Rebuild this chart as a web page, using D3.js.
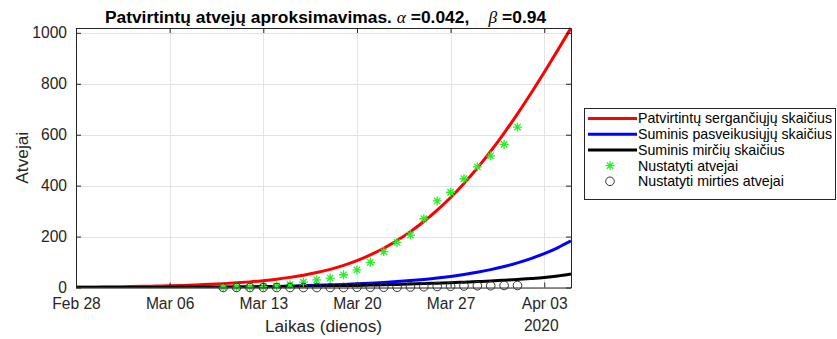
<!DOCTYPE html>
<html>
<head>
<meta charset="utf-8">
<script src="https://cdn.jsdelivr.net/npm/d3@7"></script>
<style>
  html, body { margin: 0; padding: 0; background: #ffffff; }
  svg { display: block; font-family: "Liberation Sans", Arial, Helvetica, sans-serif; }
</style>
</head>
<body>
<svg id="chart" width="837" height="339"></svg>
<script>
// Model time span (daily) and observation span
const modelStart = "2020-02-28";
const modelEnd = "2020-04-06";   // exclusive
const obsStart = "2020-03-10";
const obsEnd = "2020-04-02";     // exclusive

// Model curves, one value per day from Feb 28 to Apr 05
const confirmedModel = [1.7, 2.1, 2.6, 3.1, 3.8, 4.6, 5.6, 6.9, 8.3, 10.1,
  12.3, 15.0, 18.2, 22.1, 26.9, 32.7, 39.7, 48.3, 58.7, 71.3,
  86.7, 105.3, 128, 154.3, 184.6, 219.4, 259.0, 303.6, 353.5, 408.8,
  469.4, 535.3, 606.3, 682.0, 761.8, 845.2, 931.2, 1019];
const recoveredModel = [0, 0, 0.05, 0.08, 0.1, 0.15, 0.2, 0.28, 0.4, 0.6,
  0.85, 1.2, 1.7, 2.3, 3.1, 4.1, 5.3, 6.8, 8.5, 10.3,
  12.2, 14.3, 16.8, 19.8, 23.2, 27.2, 31.8, 37.1, 43.5, 51.1,
  59.9, 70.3, 82.5, 96.8, 113.5, 133, 156, 183];
const deathsModel = [0, 0, 0.1, 0.1, 0.2, 0.3, 0.4, 0.5, 0.6, 0.8,
  1, 1.3, 1.7, 2.1, 2.6, 3.2, 3.8, 4.5, 5.3, 6.2,
  7.2, 8.3, 9.5, 10.8, 12.2, 13.7, 15.3, 17.0, 18.9, 21.0,
  23.3, 25.8, 28.6, 31.7, 35.2, 39.4, 45.2, 53];

// Observed cumulative counts, Mar 10 .. Apr 01
const observedCases = [1, 1, 2, 3, 6, 11, 21, 30, 37, 50,
  69, 99, 141, 177, 206, 270, 340, 374, 427, 474,
  517, 562, 630];
const observedDeaths = [0, 0, 0, 0, 0, 0, 0, 0, 0, 0,
  1, 1, 1, 1, 2, 3, 4, 5, 6, 7,
  7, 8, 8];

const yTickValues = [0, 200, 400, 600, 800, 1000];
const xTickDates = ["2020-02-28", "2020-03-06", "2020-03-13", "2020-03-20", "2020-03-27", "2020-04-03"];
const yearLabel = "2020";

const legendLabels = [
  "Patvirtintų sergančiųjų skaičius",
  "Suminis pasveikusiųjų skaičius",
  "Suminis mirčių skaičius",
  "Nustatyti atvejai",
  "Nustatyti mirties atvejai"
];

const parse = d3.utcParse("%Y-%m-%d");
const modelDates = d3.utcDay.range(parse(modelStart), parse(modelEnd));
const obsDates = d3.utcDay.range(parse(obsStart), parse(obsEnd));

const svg = d3.select("#chart");
const margin = { left: 76, right: 266, top: 28, bottom: 51.5 };
const W = 837, H = 339;
const x0 = margin.left, x1 = W - margin.right;
const y0 = H - margin.bottom, y1 = margin.top;

const x = d3.scaleUtc()
  .domain([parse(modelStart), modelDates[modelDates.length - 1]])
  .range([x0, x1]);
const y = d3.scaleLinear()
  .domain([0, d3.max(confirmedModel)])
  .range([y0, y1]);

const textColor = "#262626";
const axisColor = "#262626";
const tickFont = 15.6;

// Grid
const grid = svg.append("g").attr("stroke", "#e3e3e3").attr("stroke-width", 1);
grid.selectAll("line.gx").data(xTickDates.map(parse)).join("line")
  .attr("x1", d => Math.round(x(d)) + 0.5).attr("x2", d => Math.round(x(d)) + 0.5)
  .attr("y1", y1).attr("y2", y0);
grid.selectAll("line.gy").data(yTickValues).join("line")
  .attr("x1", x0).attr("x2", x1)
  .attr("y1", d => Math.round(y(d)) + 0.5).attr("y2", d => Math.round(y(d)) + 0.5);

// Axes (box with inward ticks on all sides)
const tickLen = 5;
const xAxisB = d3.axisBottom(x).tickValues(xTickDates.map(parse))
  .tickFormat(d3.utcFormat("%b %d")).tickSizeInner(-tickLen).tickSizeOuter(0).tickPadding(10);
const xAxisT = d3.axisTop(x).tickValues(xTickDates.map(parse))
  .tickFormat("").tickSizeInner(-tickLen).tickSizeOuter(0);
const yAxisL = d3.axisLeft(y).tickValues(yTickValues).tickFormat(d3.format("d"))
  .tickSizeInner(-tickLen).tickSizeOuter(0).tickPadding(9);
const yAxisR = d3.axisRight(y).tickValues(yTickValues)
  .tickFormat("").tickSizeInner(-tickLen).tickSizeOuter(0);

function styleAxis(g) {
  g.select(".domain").attr("stroke", axisColor).attr("stroke-width", 1);
  g.selectAll(".tick line").attr("stroke", axisColor);
  g.selectAll(".tick text").attr("fill", textColor)
    .style("font-size", tickFont + "px")
    .style("font-family", "'Liberation Sans', Arial, sans-serif");
}

// Clip for curves
svg.append("clipPath").attr("id", "plotClip")
  .append("rect").attr("x", x0).attr("y", y1 - 1).attr("width", x1 - x0).attr("height", y0 - y1 + 1);

const line = d3.line()
  .x((d, i) => x(modelDates[i]))
  .y(d => y(d))
  .curve(d3.curveMonotoneX);

const curves = svg.append("g").attr("clip-path", "url(#plotClip)");
curves.append("path").datum(confirmedModel).attr("d", line)
  .attr("fill", "none").attr("stroke", "#ff0000").attr("stroke-width", 3);
curves.append("path").datum(recoveredModel).attr("d", line)
  .attr("fill", "none").attr("stroke", "#0000ff").attr("stroke-width", 3);
curves.append("path").datum(deathsModel).attr("d", line)
  .attr("fill", "none").attr("stroke", "#000000").attr("stroke-width", 3);

// Asterisk marker path (plus + cross)
function asterisk(r) {
  const c = r * Math.SQRT1_2;
  return `M${-r},0L${r},0M0,${-r}L0,${r}M${-c},${-c}L${c},${c}M${-c},${c}L${c},${-c}`;
}

svg.append("g").selectAll("path").data(observedCases).join("path")
  .attr("transform", (d, i) => `translate(${x(obsDates[i])},${y(d)})`)
  .attr("d", asterisk(4.5))
  .attr("fill", "none").attr("stroke", "#2bee2b").attr("stroke-width", 1.3);

svg.append("g").selectAll("circle").data(observedDeaths).join("circle")
  .attr("cx", (d, i) => x(obsDates[i]))
  .attr("cy", d => y(d))
  .attr("r", 4.3)
  .attr("fill", "none").attr("stroke", "#333333").attr("stroke-width", 1);

// Axes on top
svg.append("g").attr("transform", `translate(0,${y0})`).call(xAxisB).call(styleAxis);
svg.append("g").attr("transform", `translate(0,${y1})`).call(xAxisT).call(styleAxis);
svg.append("g").attr("transform", `translate(${x0},0)`).call(yAxisL).call(styleAxis);
svg.append("g").attr("transform", `translate(${x1},0)`).call(yAxisR).call(styleAxis);

// Year label under the last tick
svg.append("text")
  .attr("x", x(parse(xTickDates[xTickDates.length - 1])) - 3)
  .attr("y", 331)
  .attr("text-anchor", "middle")
  .attr("fill", textColor)
  .style("font-size", tickFont + "px")
  .text(yearLabel);

// Axis labels
svg.append("text")
  .attr("x", (x0 + x1) / 2).attr("y", 331.5)
  .attr("text-anchor", "middle").attr("fill", textColor)
  .style("font-size", "17.3px")
  .text("Laikas (dienos)");

svg.append("text")
  .attr("transform", `translate(27.5,${(y0 + y1) / 2}) rotate(-90)`)
  .attr("text-anchor", "middle").attr("fill", textColor)
  .style("font-size", "17.3px")
  .text("Atvejai");

// Title with Greek symbols
const title = svg.append("text")
  .attr("x", (x0 + x1) / 2 + 2).attr("y", 22.5)
  .attr("text-anchor", "middle").attr("fill", "#000000")
  .style("font-size", "17.4px").style("font-weight", "bold")
  .attr("xml:space", "preserve");
title.append("tspan").text("Patvirtintų atvejų aproksimavimas. ");
title.append("tspan").text("α")
  .style("font-family", "'Liberation Serif', 'Times New Roman', serif")
  .style("font-style", "italic").style("font-weight", "normal");
title.append("tspan").text(" =0.042,    ");
title.append("tspan").text("β")
  .style("font-family", "'Liberation Serif', 'Times New Roman', serif")
  .style("font-style", "italic").style("font-weight", "normal");
title.append("tspan").text(" =0.94");

// Legend
const lg = svg.append("g");
const lgX = 584, lgY = 108, lgW = 251, lgH = 91;
lg.append("rect").attr("x", lgX + 0.5).attr("y", lgY + 0.5)
  .attr("width", lgW).attr("height", lgH)
  .attr("fill", "#ffffff").attr("stroke", "#262626").attr("stroke-width", 1);

const rowY = i => 118.5 + i * 15.7;
const swatch = [
  { type: "line", color: "#ff0000" },
  { type: "line", color: "#0000ff" },
  { type: "line", color: "#000000" },
  { type: "star", color: "#2bee2b" },
  { type: "circle", color: "#333333" }
];
swatch.forEach((s, i) => {
  if (s.type === "line") {
    lg.append("line").attr("x1", 588).attr("x2", 637)
      .attr("y1", rowY(i)).attr("y2", rowY(i))
      .attr("stroke", s.color).attr("stroke-width", 3);
  } else if (s.type === "star") {
    lg.append("path").attr("transform", `translate(610,${rowY(i)})`)
      .attr("d", asterisk(4.5)).attr("fill", "none")
      .attr("stroke", s.color).attr("stroke-width", 1.3);
  } else {
    lg.append("circle").attr("cx", 610).attr("cy", rowY(i)).attr("r", 4.3)
      .attr("fill", "none").attr("stroke", s.color).attr("stroke-width", 1);
  }
  lg.append("text").attr("x", 638).attr("y", rowY(i)).attr("dy", "0.35em")
    .attr("fill", "#000000").style("font-size", "14.2px")
    .text(legendLabels[i]);
});
</script>
</body>
</html>
